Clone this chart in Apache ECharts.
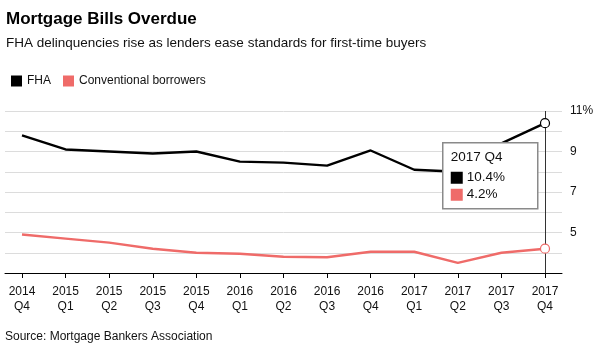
<!DOCTYPE html>
<html>
<head>
<meta charset="utf-8">
<script src="https://cdn.jsdelivr.net/npm/echarts@6/dist/echarts.min.js"></script>
<style>
html, body { margin: 0; padding: 0; background: #fff; }
#panel { width: 600px; height: 353px; }
</style>
</head>
<body>
<div id="panel"></div>
<script>
var quarters = ['2014\nQ4', '2015\nQ1', '2015\nQ2', '2015\nQ3', '2015\nQ4', '2016\nQ1', '2016\nQ2', '2016\nQ3', '2016\nQ4', '2017\nQ1', '2017\nQ2', '2017\nQ3', '2017\nQ4'];
var fha = [9.8, 9.1, 9.0, 8.9, 9.0, 8.5, 8.45, 8.3, 9.05, 8.1, 8.0, 9.4, 10.4];
var conventional = [4.9, 4.7, 4.5, 4.2, 4.0, 3.95, 3.8, 3.78, 4.05, 4.05, 3.5, 4.0, 4.2];
var yTicks = [5, 7, 9, 11];

var FONT = '"Liberation Sans", Arial, sans-serif';
var RED = '#ef6b69';
var myChart;

function endPoints(values, color)
{
    var last = values.length - 1;
    return values.map(function (v, i)
    {
        if (i != last) return v;
        return {
            value: v,
            symbol: 'circle',
            symbolSize: 9,
            itemStyle: { color: '#fff', borderColor: color, borderWidth: 1.2 }
        };
    });
}

function draw()
{
    var last = quarters.length - 1;
    var tipTitle = quarters[last].replace('\n', ' ');
    myChart.setOption({
        animation: false,
        backgroundColor: '#fff',
        textStyle: { fontFamily: FONT },
        title: {
            text: 'Mortgage Bills Overdue',
            subtext: 'FHA delinquencies rise as lenders ease standards for first-time buyers',
            left: 1,
            top: 6,
            itemGap: 8,
            textStyle: { fontFamily: FONT, fontSize: 17, fontWeight: 'bold', color: '#000' },
            subtextStyle: { fontFamily: FONT, fontSize: 13.5, color: '#111' }
        },
        legend: {
            left: 6,
            top: 70,
            icon: 'rect',
            itemWidth: 11,
            itemHeight: 11,
            itemGap: 12,
            textStyle: { fontFamily: FONT, fontSize: 12, color: '#111' },
            data: ['FHA', 'Conventional borrowers']
        },
        grid: [
            { left: 5, right: 38, top: 111, bottom: 80 },
            { left: 22, right: 55, top: 111, bottom: 80 }
        ],
        xAxis: [
            {
                gridIndex: 0, type: 'value', min: 0, max: 1,
                axisLine: { show: true, lineStyle: { color: '#000', width: 1 } },
                axisTick: { show: false }, axisLabel: { show: false }, splitLine: { show: false }
            },
            {
                gridIndex: 1, type: 'category', data: quarters, boundaryGap: false,
                axisLine: { show: false },
                axisTick: { show: true, length: 5, lineStyle: { color: '#000' } },
                axisLabel: { interval: 0, margin: 11, fontSize: 12, lineHeight: 15, color: '#111', fontFamily: FONT },
                splitLine: { show: false }
            }
        ],
        yAxis: [
            {
                gridIndex: 0, type: 'value', position: 'right', min: 3, max: 11, interval: 1,
                axisLine: { show: false }, axisTick: { show: false },
                axisLabel: {
                    margin: 8, fontSize: 12, color: '#111', fontFamily: FONT,
                    formatter: function (v)
                    {
                        if (yTicks.indexOf(v) < 0) return '';
                        return v == yTicks[yTicks.length - 1] ? v + '%' : String(v);
                    }
                },
                splitLine: { show: true, lineStyle: { color: '#dcdcdc', width: 1 } }
            },
            { gridIndex: 1, type: 'value', min: 3, max: 11, show: false }
        ],
        series: [
            {
                name: 'FHA',
                type: 'line',
                xAxisIndex: 1, yAxisIndex: 1,
                color: '#000',
                symbol: 'none',
                showAllSymbol: true,
                lineStyle: { color: '#000', width: 2.4 },
                data: endPoints(fha, '#000'),
                z: 3,
                markLine: {
                    silent: true,
                    symbol: ['none', 'none'],
                    label: { show: false },
                    lineStyle: { color: '#333', width: 1, type: 'solid' },
                    data: [{ xAxis: quarters[last] }],
                    z: 1
                }
            },
            {
                name: 'Conventional borrowers',
                type: 'line',
                xAxisIndex: 1, yAxisIndex: 1,
                color: RED,
                symbol: 'none',
                showAllSymbol: true,
                lineStyle: { color: RED, width: 2.4 },
                data: endPoints(conventional, RED),
                z: 3
            }
        ],
        graphic: [
            {
                type: 'group', left: 442, top: 142, z: 100,
                children: [
                    { type: 'rect', z: 100, shape: { x: 0, y: 0, width: 95, height: 66 }, style: { fill: '#fff', stroke: '#8a8a8a', lineWidth: 1.5 } },
                    { type: 'text', z: 101, x: 8, y: 8, style: { text: tipTitle, font: '13.5px ' + FONT, fill: '#111' } },
                    { type: 'rect', z: 101, shape: { x: 8, y: 29, width: 12, height: 12 }, style: { fill: '#000' } },
                    { type: 'text', z: 101, x: 24, y: 28, style: { text: fha[last].toFixed(1) + '%', font: '13.5px ' + FONT, fill: '#111' } },
                    { type: 'rect', z: 101, shape: { x: 8, y: 46, width: 12, height: 12 }, style: { fill: RED } },
                    { type: 'text', z: 101, x: 24, y: 45, style: { text: conventional[last].toFixed(1) + '%', font: '13.5px ' + FONT, fill: '#111' } }
                ]
            },
            {
                type: 'text', left: 5, top: 331,
                style: { text: 'Source: Mortgage Bankers Association', font: '12px ' + FONT, fill: '#111' }
            }
        ]
    });
}

myChart = echarts.init(document.getElementById('panel'));
draw();
</script>
</body>
</html>
